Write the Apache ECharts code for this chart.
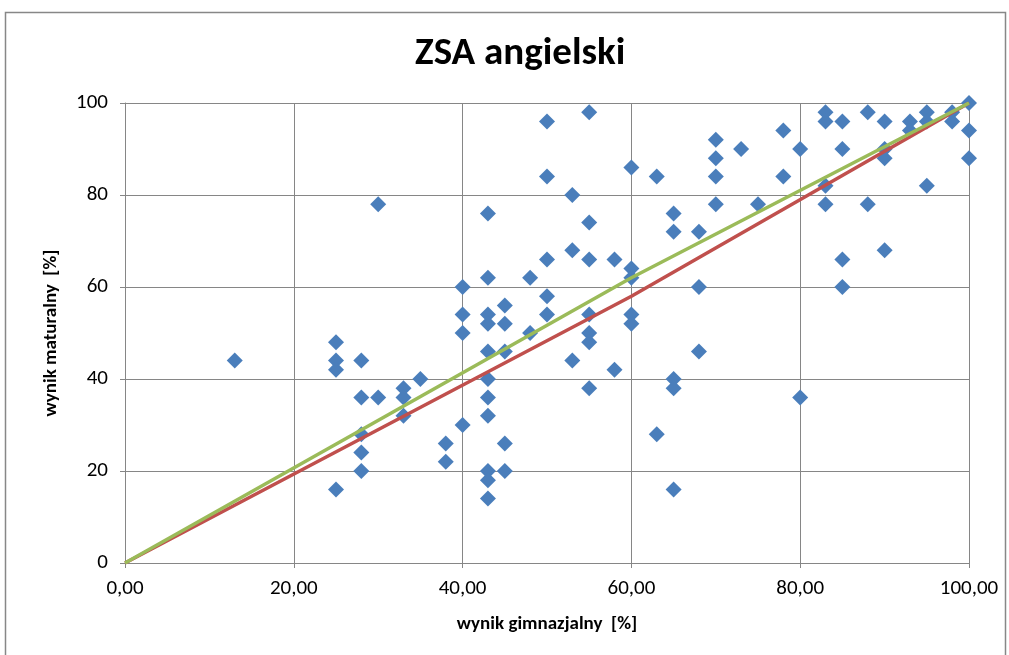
<!DOCTYPE html>
<html>
<head>
<meta charset="utf-8">
<script src="https://cdn.jsdelivr.net/npm/echarts@6/dist/echarts.min.js"></script>
<style>
  html, body { margin: 0; padding: 0; background: #fff; }
  #main { width: 1009px; height: 655px; }
</style>
</head>
<body>
<div id="main"></div>
<script>
// wynik gimnazjalny (x) / wynik maturalny (y)
var gimnazjum = [
  13,
  25, 25, 25, 25,
  28, 28, 28, 28, 28,
  30, 30,
  33, 33, 33,
  35,
  38, 38,
  40, 40, 40, 40,
  43, 43, 43, 43, 43, 43, 43, 43, 43, 43, 43,
  45, 45, 45, 45, 45,
  48, 48,
  50, 50, 50, 50, 50,
  53, 53, 53,
  55, 55, 55, 55, 55, 55, 55,
  58, 58,
  60, 60, 60, 60, 60,
  63, 63,
  65, 65, 65, 65, 65,
  68, 68, 68,
  70, 70, 70, 70,
  73,
  75,
  78, 78,
  80, 80,
  83, 83, 83, 83,
  85, 85, 85, 85,
  88, 88,
  90, 90, 90, 90,
  93, 93,
  95, 95, 95,
  98, 98,
  100, 100, 100
];
var matura = [
  44,
  48, 44, 42, 16,
  44, 36, 28, 24, 20,
  78, 36,
  38, 36, 32,
  40,
  26, 22,
  60, 54, 50, 30,
  76, 62, 54, 52, 46, 40, 36, 32, 20, 18, 14,
  56, 52, 46, 26, 20,
  62, 50,
  96, 84, 66, 58, 54,
  80, 68, 44,
  98, 74, 66, 54, 50, 48, 38,
  66, 42,
  86, 64, 62, 54, 52,
  84, 28,
  76, 72, 40, 38, 16,
  72, 60, 46,
  92, 88, 84, 78,
  90,
  78,
  94, 84,
  90, 36,
  98, 96, 82, 78,
  96, 90, 66, 60,
  98, 78,
  96, 90, 88, 68,
  96, 94,
  98, 96, 82,
  98, 96,
  100, 94, 88
];

// reference lines
var redLineX = [0, 60, 100];
var redLineY = [0, 58, 100];
var greenLineX = [0, 60, 100];
var greenLineY = [0, 62, 100];

var font = 'Carlito, "Liberation Sans Narrow", "Open Sans", sans-serif';

function pairs(xs, ys) {
  return xs.map(function (x, i) { return [x, ys[i]]; });
}

var chartDom = document.getElementById('main');
var myChart = echarts.init(chartDom, null, { renderer: 'canvas' });

var option = {
  animation: false,
  backgroundColor: '#fff',
  title: {
    text: 'ZSA angielski',
    left: 410,
    top: 30,
    textStyle: { fontFamily: font, fontSize: 39, fontWeight: 'bold', color: '#000' }
  },
  graphic: [
    {
      type: 'rect',
      shape: { x: 5.5, y: 12.5, width: 1000, height: 700 },
      style: { fill: null, stroke: '#878787', lineWidth: 1.5 },
      silent: true
    }
  ],
  grid: { left: 125, right: 40, top: 103, bottom: 92 },
  xAxis: {
    type: 'value',
    min: 0,
    max: 100,
    interval: 20,
    name: 'wynik gimnazjalny  [%]',
    nameLocation: 'middle',
    nameGap: 52,
    nameTextStyle: { fontFamily: font, fontSize: 19, fontWeight: 'bold', color: '#000' },
    axisLine: { lineStyle: { color: '#868686', width: 1 } },
    axisTick: { show: true, length: 5, lineStyle: { color: '#868686' } },
    axisLabel: {
      fontFamily: font, fontSize: 21, color: '#000', margin: 15,
      formatter: function (v) { return v.toFixed(2).replace('.', ','); }
    },
    splitLine: { show: true, lineStyle: { color: '#868686', width: 1 } }
  },
  yAxis: {
    type: 'value',
    min: 0,
    max: 100,
    interval: 20,
    name: 'wynik maturalny  [%]',
    nameLocation: 'middle',
    nameGap: 64,
    nameRotate: 90,
    nameTextStyle: { fontFamily: font, fontSize: 19, fontWeight: 'bold', color: '#000' },
    axisLine: { show: true, lineStyle: { color: '#868686', width: 1 } },
    axisTick: { show: true, length: 5, lineStyle: { color: '#868686' } },
    axisLabel: { fontFamily: font, fontSize: 21, color: '#000', margin: 17 },
    splitLine: { show: true, lineStyle: { color: '#868686', width: 1 } }
  },
  series: [
    {
      type: 'scatter',
      symbol: 'diamond',
      symbolSize: 16,
      itemStyle: { color: '#4a7ebb', opacity: 1 },
      data: pairs(gimnazjum, matura),
      z: 3
    },
    {
      type: 'line',
      symbol: 'none',
      lineStyle: { color: '#c0504d', width: 3.5 },
      data: pairs(redLineX, redLineY),
      z: 4
    },
    {
      type: 'line',
      symbol: 'none',
      lineStyle: { color: '#9bbb59', width: 3.5 },
      data: pairs(greenLineX, greenLineY),
      z: 5
    }
  ]
};

myChart.setOption(option);
</script>
</body>
</html>
